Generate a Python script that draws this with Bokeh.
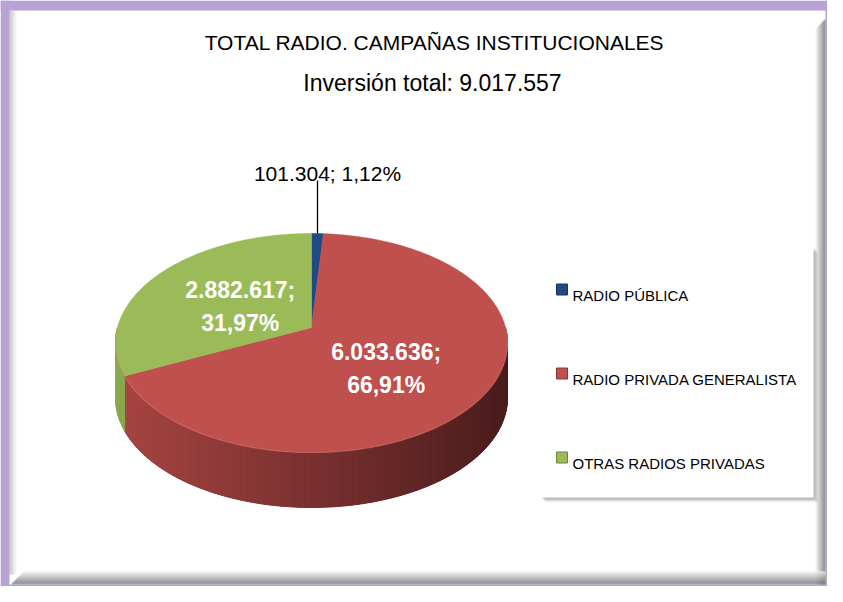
import math
from bokeh.plotting import figure
from bokeh.models import Range1d
from bokeh.embed import file_html
from bokeh.resources import INLINE
from bokeh.core.properties import value

# ---------------- data ----------------
TITLE = "TOTAL RADIO. CAMPAÑAS INSTITUCIONALES"
SUBTITLE_PREFIX = "Inversión total: "
categories = ["RADIO PÚBLICA", "RADIO PRIVADA GENERALISTA", "OTRAS RADIOS PRIVADAS"]
values = [101304, 6033636, 2882617]
top_colors = ["#1F4A84", "#C0504D", "#9BBB59"]
side_light = ["#1A3E6E", "#A84542", "#8AA94F"]
side_dark = ["#0F2746", "#4A1C1C", "#5F7833"]
label_colors = ["black", "white", "white"]


def es_int(v):
    return f"{v:,}".replace(",", ".")


def es_pct(x):
    return f"{x:.2f}".replace(".", ",") + "%"


total = sum(values)
pcts = [v / total * 100 for v in values]

SANS = "Liberation Sans"

# ---------------- figure (data units = reference pixels) ----------------
W, H = 827, 586
p = figure(width=W, height=H, x_range=Range1d(0, W), y_range=Range1d(H, 0),
           output_backend="svg", toolbar_location=None, min_border=0)
p.axis.visible = False
p.grid.visible = False
p.outline_line_color = None
p.background_fill_color = "white"
p.border_fill_color = "white"


def hex2rgb(h):
    h = h.lstrip("#")
    return tuple(int(h[i:i + 2], 16) for i in (0, 2, 4))


def lerp(c1, c2, f):
    a, b = hex2rgb(c1), hex2rgb(c2)
    f = max(0.0, min(1.0, f))
    return "#%02x%02x%02x" % tuple(int(round(a[i] + (b[i] - a[i]) * f)) for i in range(3))


# ---------------- frame ----------------
PURPLE = "#B8A2D6"
# left light bevel
for i in range(7):
    p.quad(left=[9 + i], right=[10 + i], top=[10], bottom=[574],
           fill_color=lerp("#b5b5b5", "#ffffff", i / 7), line_color=None)
# right dark bevel
for i in range(10):
    p.quad(left=[815 + i], right=[816 + i], top=[18 + (10 - i)], bottom=[H],
           fill_color=lerp("#f2f2f2", "#787878", i / 8), line_color=None)
# bottom dark bevel
for i in range(13):
    p.quad(left=[10 + (13 - i)], right=[W], top=[571 + i], bottom=[572 + i],
           fill_color=lerp("#efefef", "#7c7c7c", i / 10), line_color=None)
# purple outer frame
p.quad(left=[0, 0, 825, 0], right=[W, 9, W, W], top=[0, 0, 0, 584], bottom=[10, H, H, H],
       fill_color=PURPLE, line_color=None)

# ---------------- 3D pie geometry ----------------
CX, CY = 311.0, 327.0
A, B, K = 194.0, 107.3, 0.1415
DEPTH = 55.0


def proj(u, v):
    d = 1.0 - K * v
    return CX + A * u / d, CY + B * v / d


def edge(t):
    return proj(math.sin(t), -math.cos(t))


bounds = []
acc = 0.0
for v in values:
    t0 = acc / total * 2 * math.pi
    acc += v
    t1 = acc / total * 2 * math.pi
    bounds.append((t0, t1))

# side: an underlay per slice, then thin shaded strips
ux, uy, uc = [], [], []
sx, sy, sc = [], [], []
XL, XR = CX - A * 1.01, CX + A * 1.01
for i, (t0, t1) in enumerate(bounds):
    lo, hi = max(t0, math.pi / 2), min(t1, 3 * math.pi / 2)
    if lo >= hi:
        continue
    n = max(2, int((hi - lo) / math.radians(1.5)))
    tops = [edge(lo + (hi - lo) * j / n) for j in range(n + 1)]
    ux.append([q[0] for q in tops] + [q[0] for q in reversed(tops)])
    uy.append([q[1] for q in tops] + [q[1] + DEPTH for q in reversed(tops)])
    uc.append(lerp(side_light[i], side_dark[i], 0.5))
    for j in range(n):
        (xa, ya), (xb, yb) = tops[j], tops[j + 1]
        sx.append([xa, xb, xb, xa])
        sy.append([ya, yb, yb + DEPTH, ya + DEPTH])
        f = ((xa + xb) / 2 - XL) / (XR - XL)
        sc.append(lerp(side_light[i], side_dark[i], f))
p.patches(xs=ux, ys=uy, fill_color=uc, line_color=None)
p.patches(xs=sx, ys=sy, fill_color=sc, line_color=sc, line_width=1.0)

# top faces
tx, ty = [], []
for (t0, t1) in bounds:
    n = max(3, int((t1 - t0) / math.radians(1)))
    xs, ys = [CX], [CY]
    for j in range(n + 1):
        x, y = edge(t0 + (t1 - t0) * j / n)
        xs.append(x)
        ys.append(y)
    tx.append(xs)
    ty.append(ys)
p.patches(xs=tx, ys=ty, fill_color=top_colors, line_color=top_colors, line_width=0.5)

# subtle highlight on the front rim
rim = [edge(math.pi / 2 + math.pi * j / 120) for j in range(121)]
p.line(x=[r[0] for r in rim], y=[r[1] for r in rim], line_color="#d9817d", line_alpha=0.45, line_width=1.2)

# ---------------- labels ----------------
for i, (t0, t1) in enumerate(bounds):
    tm = (t0 + t1) / 2
    lbl1 = es_int(values[i]) + ";"
    lbl2 = es_pct(pcts[i])
    if pcts[i] < 5:
        ex, ey = edge(tm)
        p.segment(x0=[ex], y0=[ey], x1=[ex], y1=[ey - 53], line_color="black", line_width=1.3)
        p.text(x=[ex + 10], y=[ey - 60], text=[lbl1 + " " + lbl2], text_font=value(SANS),
               text_font_size="21px", text_align="center", text_baseline="alphabetic",
               text_color=label_colors[i])
    else:
        lx, _ = proj(0.45 * math.sin(tm), -0.45 * math.cos(tm))
        _, ly = proj(0.52 * math.sin(tm), -0.52 * math.cos(tm))
        p.text(x=[lx, lx], y=[ly - 8.5, ly + 24.5], text=[lbl1, lbl2], text_font=value(SANS),
               text_font_size="23px", text_font_style="bold", text_align="center",
               text_baseline="alphabetic", text_color=label_colors[i])

# ---------------- titles ----------------
p.text(x=[434], y=[42], text=[TITLE], text_font=value(SANS), text_font_size="21px",
       text_align="center", text_baseline="alphabetic", text_color="black")
p.text(x=[432], y=[82], text=[SUBTITLE_PREFIX + es_int(total)], text_font=value(SANS),
       text_font_size="23px", text_align="center", text_baseline="alphabetic", text_color="black")

# ---------------- legend ----------------
LX0, LX1, LY0, LY1 = 541, 813, 247, 497
for dx, al in [(5, 0.12), (3.5, 0.22), (2, 0.32)]:
    p.quad(left=[LX0 + dx - 1], right=[LX1 + dx], top=[LY0 + dx], bottom=[LY1 + dx],
           fill_color="#808080", fill_alpha=al, line_color=None)
p.quad(left=[LX0], right=[LX1], top=[LY0], bottom=[LY1], fill_color="white", line_color=None)

ly = [289 + 84 * i for i in range(len(categories))]
p.rect(x=[561.5] * len(categories), y=ly, width=11, height=11, fill_color=top_colors,
       line_color=[lerp(c, "#000000", 0.3) for c in top_colors], line_width=1)
p.text(x=[572] * len(categories), y=[y + 5.5 for y in ly], text=categories, text_font=value(SANS),
       text_font_size="15px", text_align="left", text_baseline="alphabetic", text_color="black")

open("out.html", "w").write(file_html(p, INLINE))
